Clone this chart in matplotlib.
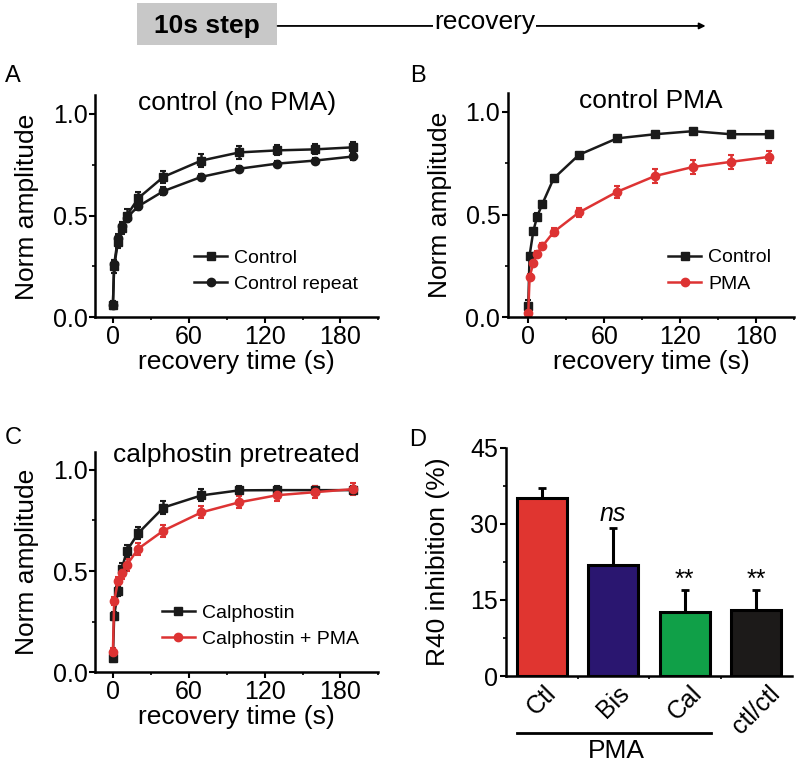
import matplotlib
matplotlib.use("Agg")
import matplotlib.pyplot as plt
from matplotlib.patches import Rectangle, FancyArrowPatch
from matplotlib.lines import Line2D
from matplotlib.ticker import MultipleLocator

plt.rcParams['font.family'] = ['Liberation Sans', 'DejaVu Sans']

RED = '#dd3333'
BLACK = '#1a1a1a'

# recovery times (s)
t = [0, 1, 4, 7, 11, 20, 40, 70, 100, 130, 160, 190]

# panel A
a_ctl = [0.06, 0.25, 0.37, 0.44, 0.50, 0.585, 0.69, 0.77, 0.81, 0.82, 0.825, 0.835]
a_ctl_err = [0.02, 0.03, 0.03, 0.03, 0.03, 0.03, 0.03, 0.03, 0.03, 0.025, 0.025, 0.025]
a_rep = [0.06, 0.26, 0.39, 0.45, 0.49, 0.545, 0.62, 0.69, 0.73, 0.755, 0.77, 0.79]
a_rep_err = [0.02, 0.02, 0.02, 0.02, 0.02, 0.02, 0.02, 0.015, 0.015, 0.015, 0.015, 0.015]

# panel B
b_ctl = [0.055, 0.30, 0.42, 0.49, 0.55, 0.675, 0.79, 0.87, 0.89, 0.905, 0.89, 0.89]
b_ctl_err = [0.03, 0.015, 0.015, 0.015, 0.015, 0.015, 0.01, 0.01, 0.01, 0.01, 0.01, 0.01]
b_pma = [0.02, 0.195, 0.265, 0.31, 0.345, 0.415, 0.51, 0.61, 0.687, 0.731, 0.756, 0.78]
b_pma_err = [0.01, 0.015, 0.015, 0.015, 0.015, 0.02, 0.02, 0.03, 0.035, 0.035, 0.035, 0.03]

# panel C
c_cal = [0.072, 0.28, 0.40, 0.51, 0.60, 0.687, 0.814, 0.874, 0.899, 0.90, 0.90, 0.90]
c_cal_err = [0.02, 0.02, 0.025, 0.03, 0.03, 0.03, 0.03, 0.03, 0.02, 0.02, 0.02, 0.02]
c_pma = [0.10, 0.35, 0.45, 0.49, 0.53, 0.61, 0.70, 0.79, 0.84, 0.875, 0.89, 0.905]
c_pma_err = [0.02, 0.02, 0.02, 0.03, 0.03, 0.03, 0.03, 0.03, 0.03, 0.03, 0.03, 0.03]

# panel D
groups = ['Ctl', 'Bis', 'Cal', 'ctl/ctl']
inhib = [35.2, 21.9, 12.6, 13.1]
inhib_err = [1.9, 7.3, 4.4, 3.9]
bar_colors = ['#e03530', '#2a1670', '#10a048', '#1c1a19']
marks = ['', 'ns', '**', '**']

fig = plt.figure(figsize=(8, 7.63), dpi=100)

LBL = 19
TCK = 18


def style_axes(ax):
    for s in ['top', 'right']:
        ax.spines[s].set_visible(False)
    for s in ['left', 'bottom']:
        ax.spines[s].set_linewidth(1.8)
    ax.tick_params(which='major', direction='out', length=4, width=1.5, labelsize=TCK, pad=1.5)
    ax.tick_params(which='minor', direction='out', length=2.5, width=1.2)


def curve_panel(rect, series, title, title_y, leg_x):
    ax = fig.add_axes(rect)
    handles = []
    for y, err, col, mk, lab in series:
        ax.errorbar(t, y, yerr=err, color=col, marker=mk, ms=6, lw=1.8,
                    elinewidth=1.8, capsize=2, capthick=1.5)
        handles.append(Line2D([], [], color=col, marker=mk, ms=6, lw=1.8, label=lab))
    ax.set_xlim(-14, 210)
    ax.set_ylim(0, 1.09)
    ax.set_xticks([0, 60, 120, 180])
    ax.xaxis.set_minor_locator(MultipleLocator(30))
    ax.set_yticks([0.0, 0.5, 1.0])
    ax.set_yticklabels(['0.0', '0.5', '1.0'])
    ax.yaxis.set_minor_locator(MultipleLocator(0.25))
    style_axes(ax)
    ax.set_xlabel('recovery time (s)', fontsize=LBL, labelpad=0.5)
    ax.set_ylabel('Norm amplitude', fontsize=LBL, labelpad=10)
    ax.text(0.5, title_y, title, transform=ax.transAxes, ha='center', va='center', fontsize=LBL)
    ax.legend(handles=handles, frameon=False, fontsize=14, handlelength=1.7, handletextpad=0.35,
              labelspacing=0.45, borderpad=0, borderaxespad=0, loc='lower left',
              bbox_to_anchor=(leg_x, 0.11))
    return ax


axA = curve_panel([0.119, 0.584, 0.354, 0.291],
                  [(a_ctl, a_ctl_err, BLACK, 's', 'Control'),
                   (a_rep, a_rep_err, BLACK, 'o', 'Control repeat')],
                  'control (no PMA)', 0.965, 0.35)
axB = curve_panel([0.635, 0.584, 0.358, 0.294],
                  [(b_ctl, b_ctl_err, BLACK, 's', 'Control'),
                   (b_pma, b_pma_err, RED, 'o', 'PMA')],
                  'control PMA', 0.965, 0.56)
axB.set_xlim(-16, 210)
axC = curve_panel([0.119, 0.119, 0.354, 0.289],
                  [(c_cal, c_cal_err, BLACK, 's', 'Calphostin'),
                   (c_pma, c_pma_err, RED, 'o', 'Calphostin + PMA')],
                  'calphostin pretreated', 0.985, 0.235)

# panel D
axD = fig.add_axes([0.6325, 0.114, 0.3575, 0.299])
x = list(range(len(groups)))
axD.bar(x, inhib, width=0.7, color=bar_colors, edgecolor='black', linewidth=2.2, zorder=2)
axD.errorbar(x, inhib, yerr=[[0] * len(x), inhib_err], fmt='none', ecolor='black',
             elinewidth=2.2, capsize=3, capthick=2, zorder=1)
axD.set_xlim(-0.5, 3.5)
axD.set_ylim(0, 45)
axD.set_yticks([0, 15, 30, 45])
axD.yaxis.set_minor_locator(MultipleLocator(7.5))
axD.set_xticks(x)
axD.set_xticks([0.5, 1.5, 2.5], minor=True)
style_axes(axD)
axD.tick_params(axis='x', which='major', length=0, pad=4)
axD.set_xticklabels(groups, rotation=45, ha='center', va='top', fontsize=TCK)
axD.set_ylabel('R40 inhibition (%)', fontsize=LBL, labelpad=15)
for xi, v, e, m in zip(x, inhib, inhib_err, marks):
    if m == 'ns':
        axD.text(xi, v + e + 0.4, m, ha='center', va='bottom', fontsize=TCK, style='italic')
    elif m:
        axD.text(xi, v + e - 0.4, m, ha='center', va='bottom', fontsize=TCK)
axD.plot([-0.35, 2.37], [-0.25, -0.25], color='black', lw=2, clip_on=False,
         transform=axD.get_xaxis_transform())
axD.text(1.05, -0.33, 'PMA', transform=axD.get_xaxis_transform(), ha='center', va='center',
         fontsize=LBL)

# panel letters
for lx, ly, s in [(0.006, 0.893, 'A'), (0.513, 0.893, 'B'), (0.006, 0.418, 'C'), (0.511, 0.416, 'D')]:
    fig.text(lx, ly, s, fontsize=17)

# protocol annotation at the top
fig.patches.append(Rectangle((0.171, 0.941), 0.175, 0.055, transform=fig.transFigure,
                             facecolor='#c8c8c8', edgecolor='none'))
fig.text(0.2585, 0.966, '10s step', ha='center', va='center', fontsize=19, fontweight='bold')
fig.patches.append(FancyArrowPatch((0.347, 0.966), (0.882, 0.966), transform=fig.transFigure,
                                   arrowstyle='-|>', mutation_scale=9, shrinkA=0, shrinkB=0,
                                   color='black', lw=1.3))
fig.text(0.606, 0.971, 'recovery', ha='center', va='center', fontsize=19,
         bbox=dict(facecolor='white', edgecolor='none', pad=0.5))

fig.savefig('out.png', dpi=100)
